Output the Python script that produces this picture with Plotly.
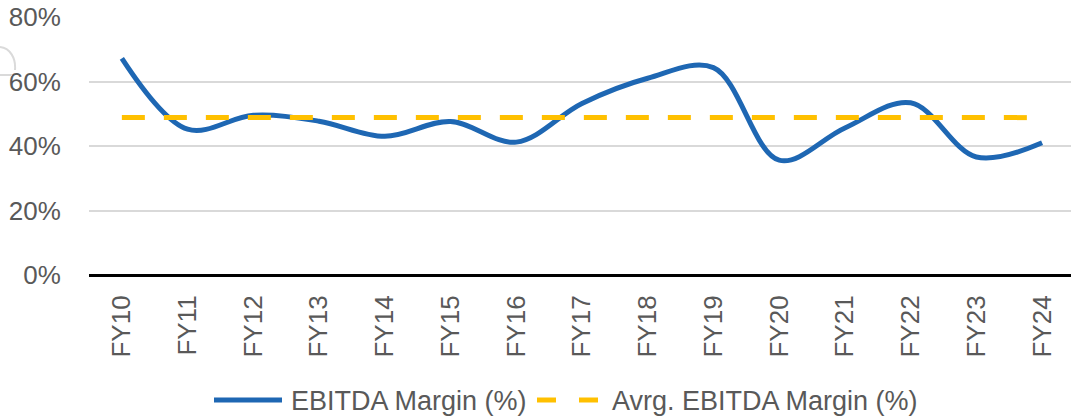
import plotly.graph_objects as go

# EBITDA margin by fiscal year (%)
years = ["FY10", "FY11", "FY12", "FY13", "FY14", "FY15", "FY16", "FY17",
         "FY18", "FY19", "FY20", "FY21", "FY22", "FY23", "FY24"]
ebitda_margin = [67.2, 45.2, 49.5, 47.7, 43.0, 47.6, 41.2, 53.2,
                 61.0, 64.3, 35.6, 45.6, 53.4, 36.6, 41.0]
avg_margin = [48.8, 48.8, 48.8, 48.8, 48.8, 48.8, 48.8, 48.8,
              48.8, 48.8, 48.8, 48.8, 48.8, 48.8, 48.8]
y_ticks = [0, 20, 40, 60, 80]
y_tick_labels = ["0%", "20%", "40%", "60%", "80%"]

BLUE = "#1E67B3"
GOLD = "#FFC000"
TEXT = "#595959"
FONT = "Liberation Sans, Arial, sans-serif"

W, H = 1071, 416
L, R, T, B = 89, 0, 17, 141
PW, PH = W - L - R, H - T - B


def px(x):
    return (x - L) / PW


def py(y):
    return (H - B - y) / PH


fig = go.Figure()
fig.add_trace(go.Scatter(
    x=years, y=ebitda_margin, mode="lines", name="EBITDA Margin (%)",
    line=dict(color=BLUE, width=5, shape="spline", smoothing=1.0),
))
fig.add_trace(go.Scatter(
    x=years, y=avg_margin, mode="lines", name="Avrg. EBITDA Margin (%)",
    line=dict(color=GOLD, width=5, dash="23px,19px"),
))

shapes = []
# legend keys
shapes.append(dict(type="line", xref="paper", yref="paper",
                   x0=px(214), x1=px(282), y0=py(400), y1=py(400),
                   line=dict(color=BLUE, width=5)))
for a, b in [(537, 556), (579, 598)]:
    shapes.append(dict(type="line", xref="paper", yref="paper",
                       x0=px(a), x1=px(b), y0=py(400), y1=py(400),
                       line=dict(color=GOLD, width=5)))
# faint mark at the left edge
shapes.append(dict(
    type="path", xref="paper", yref="paper",
    path=(f"M {px(0)},{py(47)} C {px(10)},{py(48)} {px(16)},{py(58)} "
          f"{px(15)},{py(70)} M {px(0)},{py(75)} L {px(12)},{py(75)}"),
    line=dict(color="#DADADA", width=2),
))

annotations = [
    dict(text="EBITDA Margin (%)", xref="paper", yref="paper",
         x=px(289), y=py(401), xanchor="left", yanchor="middle",
         showarrow=False, font=dict(family=FONT, size=27, color=TEXT)),
    dict(text="Avrg. EBITDA Margin (%)", xref="paper", yref="paper",
         x=px(610), y=py(401), xanchor="left", yanchor="middle",
         showarrow=False, font=dict(family=FONT, size=27, color=TEXT)),
]

fig.update_layout(
    width=W, height=H,
    margin=dict(l=L, r=R, t=T, b=B),
    paper_bgcolor="white", plot_bgcolor="white",
    showlegend=False,
    font=dict(family=FONT, size=26, color=TEXT),
    shapes=shapes, annotations=annotations,
    xaxis=dict(
        type="category", range=[-0.5, 14.44], tickangle=-90,
        showgrid=False, showline=False,
        ticks="outside", ticklen=9, tickcolor="rgba(0,0,0,0)",
        tickfont=dict(family=FONT, size=26, color=TEXT),
        fixedrange=True,
    ),
    yaxis=dict(
        range=[0, 80], tickvals=y_ticks, ticktext=y_tick_labels,
        showgrid=True, gridcolor="#D9D9D9", gridwidth=1.5,
        zeroline=True, zerolinecolor="black", zerolinewidth=3,
        showline=False, ticks="outside", ticklen=22, tickcolor="rgba(0,0,0,0)",
        tickfont=dict(family=FONT, size=26, color=TEXT),
        fixedrange=True,
    ),
)

fig.write_html("out.html", config={"displayModeBar": False})
